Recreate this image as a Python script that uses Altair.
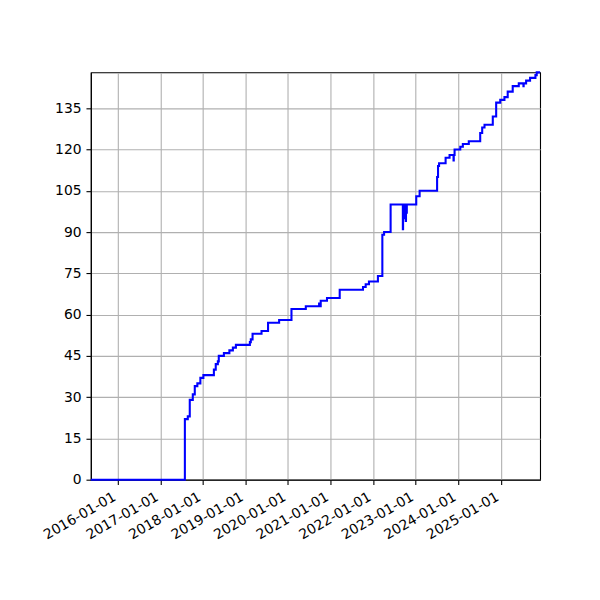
import altair as alt
import pandas as pd

dates = [
    "2015-05-15", "2017-07-30", "2017-08-24", "2017-09-10", "2017-10-06", "2017-10-23",
    "2017-11-14", "2017-12-10", "2018-01-05", "2018-04-05", "2018-04-21", "2018-05-09",
    "2018-05-17", "2018-06-30", "2018-08-16", "2018-09-15", "2018-10-11", "2019-02-08",
    "2019-02-16", "2019-03-03", "2019-05-19", "2019-07-14", "2019-10-17", "2020-01-31",
    "2020-06-02", "2020-09-24", "2020-09-30", "2020-10-08", "2020-12-01", "2021-03-20",
    "2021-10-06", "2021-10-29", "2021-11-26", "2022-02-11", "2022-03-21", "2022-04-05",
    "2022-05-31", "2022-09-13", "2022-09-15", "2022-09-22", "2022-09-24", "2022-10-01",
    "2022-10-03", "2022-10-08", "2022-10-10", "2022-10-15", "2022-10-17", "2023-01-06",
    "2023-02-04", "2023-07-04", "2023-07-12", "2023-07-21", "2023-09-15", "2023-10-19",
    "2023-11-22", "2023-11-24", "2023-12-01", "2024-01-19", "2024-02-10", "2024-04-01",
    "2024-07-08", "2024-07-25", "2024-08-14", "2024-10-24", "2024-11-22", "2024-12-27",
    "2025-02-01", "2025-03-01", "2025-04-13", "2025-06-04", "2025-07-14", "2025-07-16",
    "2025-08-06", "2025-09-09", "2025-10-25", "2025-11-05", "2025-12-04",
]
values = [
    0, 22, 23, 29, 31, 34,
    35, 37, 38, 40, 42, 43,
    45, 46, 47, 48, 49, 50,
    51, 53, 54, 57, 58, 62,
    63, 64, 63, 65, 66, 69,
    70, 71, 72, 74, 89, 90,
    100, 91, 100, 98, 100, 95,
    100, 94, 100, 97, 100, 103,
    105, 110, 114, 115, 117, 118,
    116, 118, 120, 121, 122, 123,
    126, 128, 129, 132, 137, 138,
    139, 141, 143, 144, 143, 144,
    145, 146, 147, 148, 148,
]
tick_dates = ["2016-01-01", "2017-01-01", "2018-01-01", "2019-01-01", "2020-01-01",
              "2021-01-01", "2022-01-01", "2023-01-01", "2024-01-01", "2025-01-01"]
y_ticks = [0, 15, 30, 45, 60, 75, 90, 105, 120, 135]

df = pd.DataFrame({"date": dates, "value": values})

x_vals = [alt.DateTime(year=int(d[:4]), month=1, date=1, utc=True) for d in tick_dates]

chart = alt.Chart(df).mark_line(
    color="#0000ff", strokeWidth=2.08, interpolate="step-after"
).encode(
    x=alt.X(
        "date:T",
        title=None,
        scale=alt.Scale(type="utc", domain=[alt.DateTime(year=2015, month=5, date=15, utc=True),
                                            alt.DateTime(year=2025, month=12, date=4, utc=True)]),
        axis=alt.Axis(values=x_vals, labelExpr="utcFormat(datum.value, '%Y-%m-%d')",
                      labelAngle=330, labelAlign="right", labelBaseline="top", labelOffset=-7),
    ),
    y=alt.Y(
        "value:Q",
        title=None,
        scale=alt.Scale(domain=[0, 148], nice=False, zero=True),
        axis=alt.Axis(values=y_ticks),
    ),
).properties(
    width=450,
    height=408,
    background="white",
    autosize=alt.AutoSizeParams(type="none"),
    padding={"left": 83, "top": 64, "right": 52, "bottom": 112},
).configure_view(
    stroke="black", strokeWidth=1.1
).configure_axis(
    domainColor="black", domainWidth=1.1,
    tickColor="black", tickWidth=1.1, tickSize=4.9,
    labelFont="DejaVu Sans", labelFontSize=13.9, labelColor="black",
    labelPadding=4.9, grid=True, gridColor="#b0b0b0", gridWidth=1.1, gridOpacity=1,
    labelFlush=False, labelOverlap=False,
)

chart.save("out.html", embed_options={"renderer": "svg", "actions": False})
